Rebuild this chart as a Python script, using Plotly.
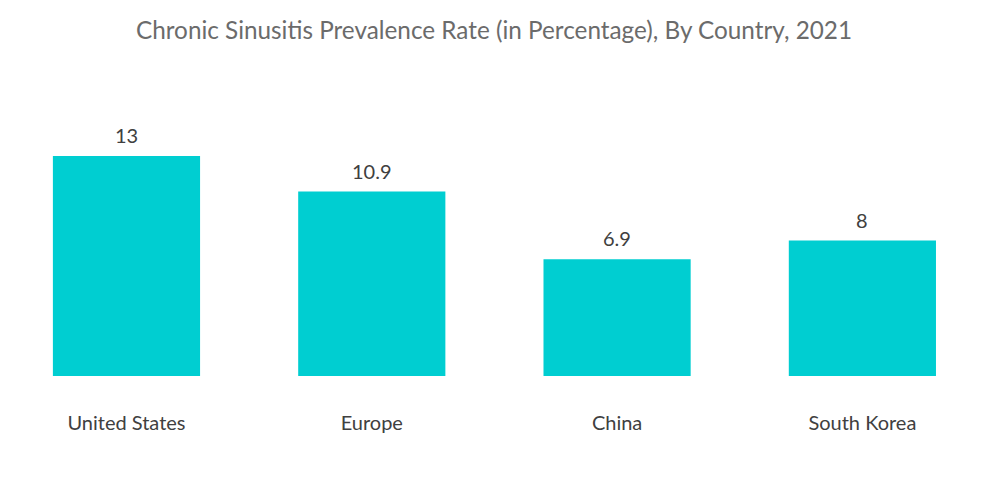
import plotly.graph_objects as go

categories = ["United States", "Europe", "China", "South Korea"]
values = [13, 10.9, 6.9, 8]
value_labels = ["13", "10.9", "6.9", "8"]

fig = go.Figure(go.Bar(
    x=categories, y=values,
    marker=dict(color="#00CED1", line=dict(width=0)),
))
for c, v, t in zip(categories, values, value_labels):
    fig.add_annotation(x=c, y=v, text=t, showarrow=False, yanchor="bottom", yshift=7,
                       font=dict(family="Lato", size=20, color="#404040"))
fig.update_layout(
    width=992, height=496,
    margin=dict(l=0, r=0, t=72, b=128),
    paper_bgcolor="white", plot_bgcolor="white",
    bargap=0.4,
    title=dict(text="Chronic Sinusitis Prevalence Rate (in Percentage), By Country, 2021",
               x=486 / 992, xanchor="center", y=1 - 22 / 496, yanchor="middle",
               font=dict(family="Lato", size=24.3, color="#6b6b6b")),
    xaxis=dict(showgrid=False, showline=False, ticks="", zeroline=False,
               range=[-0.483, 3.561],
               tickfont=dict(family="Lato", size=20, color="#404040"), ticklabelstandoff=33),
    yaxis=dict(visible=False, range=[0, 17.49]),
    showlegend=False,
)
fig.write_html("out.html")
